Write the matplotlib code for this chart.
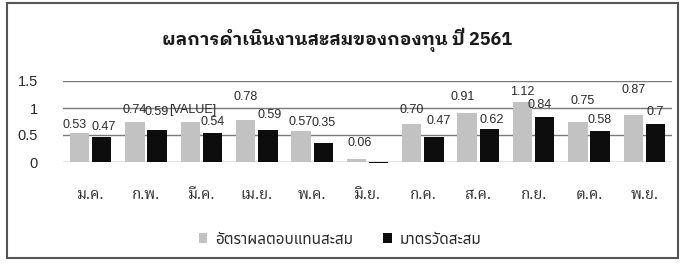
import numpy as np
import matplotlib
matplotlib.use("Agg")
import matplotlib.pyplot as plt
from matplotlib.patches import Rectangle

# data
months = ["ม.ค.", "ก.พ.", "มี.ค.", "เม.ย.", "พ.ค.", "มิ.ย.", "ก.ค.", "ส.ค.", "ก.ย.", "ต.ค.", "พ.ย."]
fund_return = [0.53, 0.74, 0.75, 0.78, 0.57, 0.06, 0.70, 0.91, 1.12, 0.75, 0.87]
benchmark = [0.47, 0.59, 0.54, 0.59, 0.35, -0.01, 0.47, 0.62, 0.84, 0.58, 0.70]
fund_labels = ["0.53", "0.74", "[VALUE]", "0.78", "0.57", "0.06", "0.70", "0.91", "1.12", "0.75", "0.87"]
bench_labels = ["0.47", "0.59", "0.54", "0.59", "0.35", "", "0.47", "0.62", "0.84", "0.58", "0.7"]
series_names = ["อัตราผลตอบแทนสะสม", "มาตรวัดสะสม"]
title = "ผลการดำเนินงานสะสมของกองทุน ปี 2561"

# label placement (pixel offsets from bar top), hand placed like the original
fund_dx = [-5, 0, 2, 0, 0, 3, 0, -4, 0, 5, 0]
fund_dy = [8, 12, 11, 23, 9, 16, 14, 16, 10, 20, 25]
bench_dx = [2, 0, 0, 2, 0, 0, 5, 2, -5, 0, 0]
bench_dy = [10, 18, 11, 15, 20, 0, 16, 9, 12, 11, 12]

num_font = "Liberation Sans"
gray = "#c2c2c2"
black = "#0d0d0d"
text_col = "#2a2a2a"

fig = plt.figure(figsize=(6.83, 2.75), dpi=100)
ax = fig.add_axes([63 / 683, 1 - 162 / 275, 609 / 683, 81 / 275])

x = np.arange(len(months))
w = 0.35
b1 = ax.bar(x - 0.2, fund_return, w, color=gray, label=series_names[0], clip_on=False, zorder=3)
b2 = ax.bar(x + 0.2, benchmark, w, color=black, label=series_names[1], clip_on=False, zorder=3)

for i in range(len(months)):
    if fund_labels[i]:
        ax.annotate(fund_labels[i], (x[i] - 0.2, fund_return[i]), xytext=(fund_dx[i], fund_dy[i]),
                    textcoords="offset pixels", ha="center", va="center",
                    fontsize=9, color=text_col, family=num_font, zorder=4)
    if bench_labels[i]:
        ax.annotate(bench_labels[i], (x[i] + 0.2, benchmark[i]), xytext=(bench_dx[i], bench_dy[i]),
                    textcoords="offset pixels", ha="center", va="center",
                    fontsize=9, color=text_col, family=num_font, zorder=4)

ax.set_xlim(-0.5, len(months) - 0.5)
ax.set_ylim(0, 1.5)
ax.set_yticks([0, 0.5, 1, 1.5])
ax.set_yticklabels(["0", "0.5", "1", "1.5"], family=num_font, fontsize=10.5, color=text_col)
ax.set_xticks(x)
ax.set_xticklabels(months, family=["Noto Serif Thai", "DejaVu Sans"], fontsize=11, color=text_col)
ax.tick_params(axis="both", length=0)
ax.tick_params(axis="y", pad=18)
ax.tick_params(axis="x", pad=19)
ax.grid(axis="y", color="#7a7a7a", linewidth=1.0, zorder=0)
for s in ax.spines.values():
    s.set_visible(False)

fig.text(337 / 683, 1 - 40 / 275, title, ha="center", va="center", fontsize=13, fontweight="bold",
         family=["IBM Plex Sans Thai Looped", "DejaVu Sans"], color="#1a1a1a")

leg = fig.legend(handles=[b1, b2], loc="center", bbox_to_anchor=(340 / 683, 1 - 240 / 275), ncol=2,
                 frameon=False, handlelength=0.55, handleheight=0.55, handletextpad=0.5, columnspacing=2.0,
                 prop={"family": ["Noto Sans Thai", "DejaVu Sans"], "size": 11})
for t in leg.get_texts():
    t.set_color(text_col)

# outer frame of the chart
fig.patches.append(Rectangle((7 / 683, 1 - 258 / 275), 671 / 683, 255 / 275, transform=fig.transFigure,
                             fill=False, edgecolor="#555555", linewidth=1.5))

fig.savefig("out.png", dpi=100)
